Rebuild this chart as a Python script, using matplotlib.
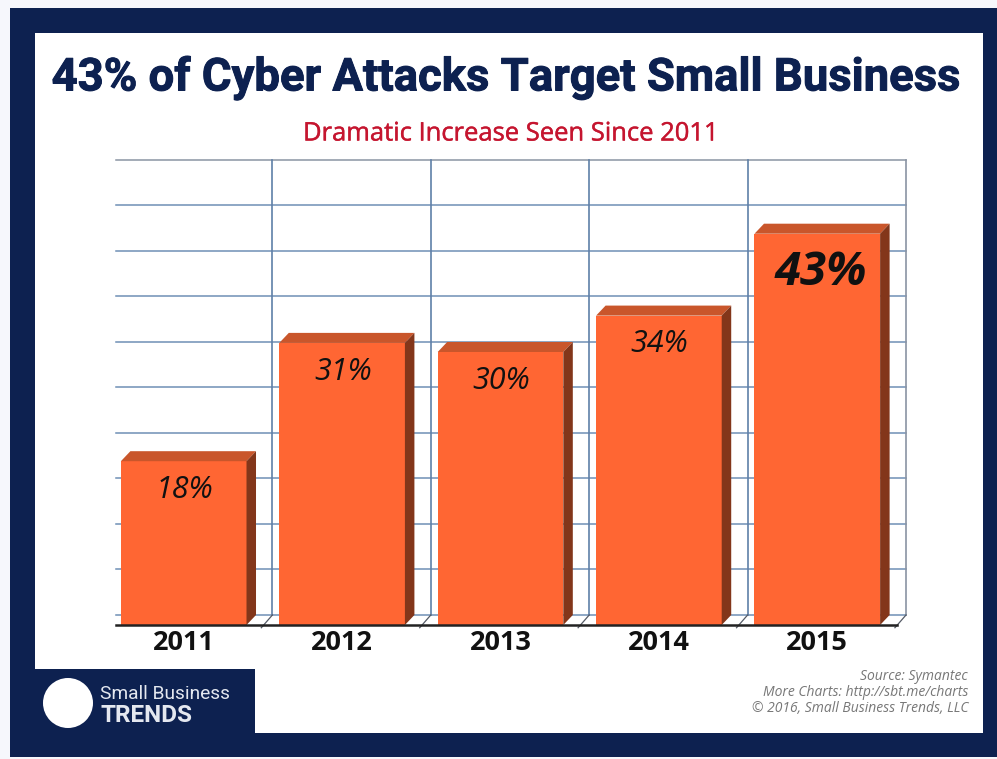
import matplotlib
matplotlib.use('Agg')
import matplotlib.pyplot as plt
import matplotlib.patheffects as pe
from matplotlib.patches import Rectangle, Circle, Polygon

years = ['2011', '2012', '2013', '2014', '2015']
shares = [18, 31, 30, 34, 43]
grid_ticks = [0, 5, 10, 15, 20, 25, 30, 35, 40, 45, 50]

title = '43% of Cyber Attacks Target Small Business'
subtitle = 'Dramatic Increase Seen Since 2011'
credits = ['Source: Symantec', 'More Charts: http://sbt.me/charts', '\u00a9 2016, Small Business Trends, LLC']

NAVY = '#0d2150'
W, H = 997, 759

fig = plt.figure(figsize=(W / 100, H / 100), dpi=100, facecolor='#f6f7fc')

# frame, logo and headings are laid out in pixels
bg = fig.add_axes([0, 0, 1, 1])
bg.set_xlim(0, W)
bg.set_ylim(H, 0)
bg.axis('off')
bg.add_patch(Rectangle((10, 8), 987, 749, fc=NAVY, ec='none'))
bg.add_patch(Rectangle((35, 33), 948, 700, fc='white', ec='none'))
bg.add_patch(Rectangle((35, 669), 220, 66, fc=NAVY, ec='none'))
bg.add_patch(Circle((68, 703), 25, fc='white', ec='none'))
bg.text(100, 694, 'Small Business', color='#e4e8f0', fontsize=13.8, family='Roboto', va='center', ha='left')
bg.text(100, 715, 'TRENDS', color='#e4e8f0', fontsize=17.5, family='Roboto', weight='bold', va='center', ha='left')
t = bg.text(505.5, 78, title, color=NAVY, fontsize=32.7, family='Roboto', weight='bold', ha='center', va='center')
t.set_path_effects([pe.withStroke(linewidth=0.7, foreground=NAVY)])
sub = bg.text(510, 134, subtitle, color='#c5152f', fontsize=18.4, family='Open Sans', ha='center', va='center')
sub.set_path_effects([pe.withStroke(linewidth=0.3, foreground='#c5152f')])
for i, line in enumerate(credits):
    bg.text(968, 676 + i * 16.3, line, color='#777777', fontsize=10, family='Open Sans', style='italic',
            ha='right', va='center')

# chart axes: 158.3 px per category, 9.1 px per percent
x0, x1 = 104.5, 896.5
y0, y1 = 625, 170
ax = fig.add_axes([x0 / W, 1 - y0 / H, (x1 - x0) / W, (y0 - y1) / H])
ax.set_xlim(-0.5, 4.5)
ax.set_ylim(0, 50)
ax.patch.set_alpha(0)
for s in ax.spines.values():
    s.set_visible(False)
ax.set_yticks([])
ax.set_xticks(range(len(years)))
ax.set_xticklabels(years, fontsize=19.5, fontweight='bold', family='Open Sans', color='#111111')
ax.tick_params(axis='x', length=0, pad=3.5)

# depth of the fake 3d extrusion, in data units
dx, dy = 0.06, 1.1
bar_w = 0.793
grid_c = '#6f8fb5'
wall_left = -0.5 + dx + 0.01

# back wall
for t in grid_ticks:
    c = '#8a94a3' if t == 50 else grid_c
    ax.plot([wall_left, 4.5 + dx], [t + dy, t + dy], color=c, lw=1.1, zorder=1, clip_on=False)
for i in range(len(years)):
    c = '#8a94a3' if i == len(years) - 1 else '#5f80a8'
    ax.plot([i + 0.5 + dx] * 2, [dy, 50 + dy], color=c, lw=1.2, zorder=1, clip_on=False)
    # floor edges
    ax.plot([i + 0.5 - 0.01, i + 0.5 + dx], [-0.3, dy], color='#555b66', lw=0.9, zorder=1, clip_on=False)

# bars with top and side faces
ax.bar(range(len(years)), shares, width=bar_w, color='#ff6633', ec='none', zorder=3)
for i, v in enumerate(shares):
    l, r = i - bar_w / 2, i + bar_w / 2
    ax.add_patch(Polygon([(l, v), (r, v), (r + dx, v + dy), (l + dx, v + dy)], fc='#c9562b', ec='none',
                         zorder=3, clip_on=False))
    ax.add_patch(Polygon([(r, 0), (r + dx, dy), (r + dx, v + dy), (r, v)], fc='#83361a', ec='none',
                         zorder=3, clip_on=False))
    big = v == max(shares)
    ax.text(i + (0.02 if big else 0.005), v - (4.0 if big else 3.0) - (0.3 if big else 0.15), '%d%%' % v,
            color='#111111', fontsize=34 if big else 22, style='italic', weight='bold' if big else 'normal',
            family='Open Sans', ha='center', va='center', zorder=4)

# baseline
ax.plot([wall_left, 4.5], [0, 0], color='#222222', lw=1.8, zorder=4, clip_on=False)

fig.savefig('out.png', dpi=100, facecolor=fig.get_facecolor())
